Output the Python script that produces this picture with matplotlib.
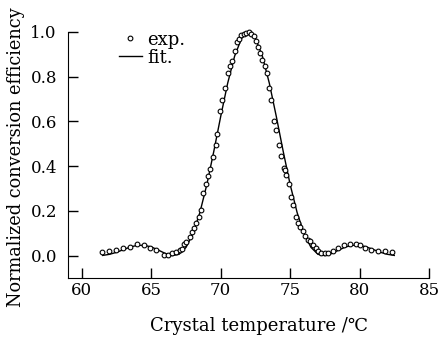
import numpy as np
import matplotlib
matplotlib.use("Agg")
import matplotlib.pyplot as plt

plt.rcParams['font.family'] = ['DejaVu Serif', 'Noto Sans CJK SC']

# experimental points (temperature in C, normalized efficiency)
exp_t = [61.42, 61.97, 62.45, 62.97, 63.45, 63.98, 64.46, 64.94, 65.32, 65.9,
         66.2, 66.5, 66.76, 67.05, 67.2, 67.36, 67.53, 67.77, 67.96, 68.1,
         68.25, 68.4, 68.56, 68.73, 68.92, 69.09, 69.26, 69.45, 69.64, 69.74,
         69.98, 70.12, 70.3, 70.53, 70.7, 70.84, 71.0, 71.17, 71.32, 71.49,
         71.65, 71.85, 72.04, 72.21, 72.37, 72.57, 72.71, 72.85, 72.97, 73.17,
         73.33, 73.47, 73.65, 73.81, 74.0, 74.19, 74.37, 74.53, 74.6, 74.73,
         74.9, 75.04, 75.2, 75.4, 75.56, 75.73, 75.92, 76.09, 76.28, 76.45,
         76.64, 76.83, 77.0, 77.24, 77.48, 77.72, 78.08, 78.44, 78.85, 79.33,
         79.76, 80.0, 80.36, 80.84, 81.32, 81.8, 82.35]
exp_v = [0.015, 0.019, 0.024, 0.032, 0.038, 0.050, 0.047, 0.034, 0.025, 0.004,
         0.004, 0.010, 0.015, 0.024, 0.030, 0.053, 0.060, 0.085, 0.104, 0.125,
         0.145, 0.175, 0.205, 0.278, 0.320, 0.358, 0.388, 0.441, 0.493, 0.545,
         0.648, 0.695, 0.750, 0.815, 0.849, 0.871, 0.916, 0.957, 0.970, 0.987,
         0.992, 0.997, 0.998, 0.990, 0.982, 0.960, 0.935, 0.905, 0.874, 0.849,
         0.815, 0.750, 0.696, 0.604, 0.563, 0.493, 0.444, 0.390, 0.382, 0.360,
         0.320, 0.264, 0.227, 0.175, 0.148, 0.127, 0.108, 0.086, 0.071, 0.064,
         0.049, 0.034, 0.019, 0.012, 0.012, 0.012, 0.022, 0.034, 0.049, 0.053,
         0.053, 0.049, 0.034, 0.027, 0.022, 0.019, 0.015]

# fitted curve
fit_t = [61.5, 62.0, 62.5, 63.0, 63.5, 64.0, 64.5, 65.0, 65.5, 66.0, 66.5,
         67.0, 67.5, 68.0, 68.5, 69.0, 69.5, 70.0, 70.5, 71.0, 71.5, 72.0,
         72.5, 73.0, 73.5, 74.0, 74.5, 75.0, 75.5, 76.0, 76.5, 77.0, 77.5,
         78.0, 78.5, 79.0, 79.5, 80.0, 80.5, 81.0, 81.5, 82.0, 82.5]
fit_v = [0.001, 0.006, 0.015, 0.027, 0.039, 0.046, 0.046, 0.039, 0.025, 0.010, 0.000,
         0.006, 0.037, 0.098, 0.193, 0.318, 0.466, 0.623, 0.771, 0.892, 0.972, 1.000,
         0.972, 0.892, 0.771, 0.623, 0.466, 0.318, 0.193, 0.098, 0.037, 0.006, 0.000,
         0.010, 0.025, 0.039, 0.046, 0.046, 0.039, 0.027, 0.015, 0.006, 0.001]

fig = plt.figure(figsize=(4.4, 3.38), dpi=100)
ax = fig.add_axes([68 / 440, 60 / 338, 361 / 440, 246 / 338])

ax.plot(fit_t, fit_v, color='black', lw=1.0, label='fit.', clip_on=False, zorder=2)
ax.plot(exp_t, exp_v, 'o', mfc='white', mec='black', ms=3.4, mew=0.8,
        label='exp.', clip_on=False, zorder=3)

ax.set_xlim(59.0, 85.0)
ax.set_ylim(-0.1, 1.0)
ax.set_xticks([60, 65, 70, 75, 80, 85])
ax.set_yticks([0.0, 0.2, 0.4, 0.6, 0.8, 1.0])
ax.set_yticklabels(['0.0', '0.2', '0.4', '0.6', '0.8', '1.0'])
ax.spines['top'].set_visible(False)
ax.spines['right'].set_visible(False)
ax.tick_params(direction='in', length=7, width=1, labelsize=12)
ax.tick_params(axis='x', pad=3)
ax.tick_params(axis='y', pad=8)
ax.set_xlabel('Crystal temperature /℃', fontsize=13)
ax.xaxis.set_label_coords(0.53, -0.16)
ax.set_ylabel('Normalized conversion efficiency', fontsize=12.8)
ax.yaxis.set_label_coords(-0.12, 0.49)

h, l = ax.get_legend_handles_labels()
ax.legend(h[::-1], l[::-1], loc='upper left', bbox_to_anchor=(0.12, 1.035),
          frameon=False, fontsize=13, handlelength=1.3, handletextpad=0.3,
          labelspacing=0.0, borderaxespad=0, numpoints=1)

fig.savefig('out.png', dpi=100)
